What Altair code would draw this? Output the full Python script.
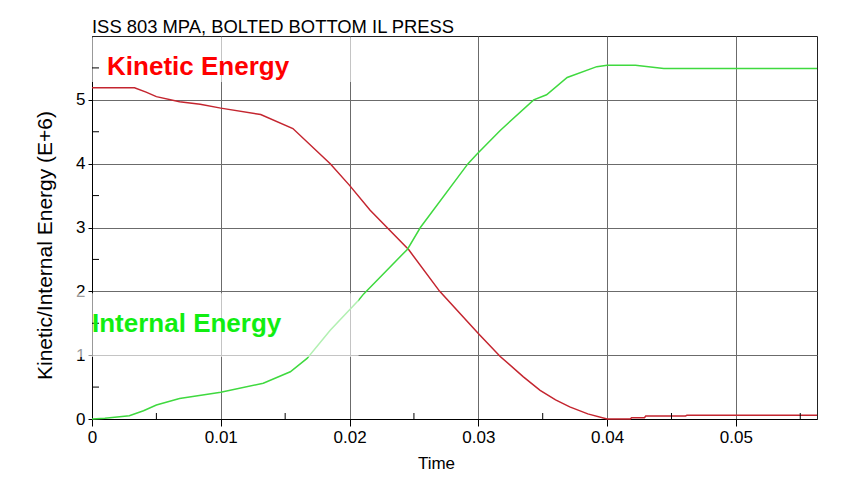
import altair as alt
import pandas as pd

FONT = "Liberation Sans, Arial, Helvetica, sans-serif"

# ---- data ----
ke_t = [0.0, 0.0033, 0.0042, 0.0050, 0.0068, 0.0084, 0.0100, 0.0131, 0.0156, 0.0185,
        0.0200, 0.0216, 0.0246, 0.0270, 0.0300, 0.0317, 0.0335, 0.0348, 0.0360, 0.0371,
        0.0385, 0.0400, 0.0418, 0.0419, 0.0429, 0.0430, 0.0461, 0.0462, 0.0563]
ke_v = [5.19, 5.19, 5.12, 5.05, 4.97, 4.93, 4.87, 4.77, 4.55, 4.00,
        3.66, 3.27, 2.65, 2.00, 1.34, 0.98, 0.66, 0.45, 0.30, 0.19,
        0.08, 0.00, 0.00, 0.02, 0.02, 0.047, 0.047, 0.06, 0.06]

ie_t = [0.0, 0.0010, 0.0029, 0.0040, 0.0050, 0.0068, 0.0100, 0.0133, 0.0154, 0.0167,
        0.0185, 0.0207, 0.0211, 0.0245, 0.0255, 0.0292, 0.0299, 0.0317, 0.0343, 0.0353,
        0.0369, 0.0392, 0.0400, 0.0422, 0.0444, 0.0563]
ie_v = [0.00, 0.01, 0.05, 0.13, 0.22, 0.32, 0.42, 0.56, 0.74, 0.95,
        1.39, 1.86, 1.96, 2.66, 3.00, 4.00, 4.15, 4.52, 5.00, 5.08,
        5.35, 5.52, 5.54, 5.54, 5.49, 5.49]

series_names = ["Kinetic Energy", "Internal Energy"]
series_colors = ["#c4252f", "#3fd93f"]
label_colors = ["#ff0000", "#11ee11"]
label_t = [0.00117, 0.0]
label_v = [5.386, 1.364]

x_major = [0.0, 0.01, 0.02, 0.03, 0.04, 0.05]
x_minor = [0.005, 0.015, 0.025, 0.035, 0.045, 0.055]
y_major = [0, 1, 2, 3, 4, 5]
y_minor = [0.5, 1.5, 2.5, 3.5, 4.5, 5.5]

X_DOMAIN = [0.0, 0.0563]
Y_DOMAIN = [0.0, 6.0]

# faded (erased) regions around the annotation labels
mask_t1 = [-0.0003, -0.0017]
mask_t2 = [0.0205, 0.0207]
mask_v1 = [5.28, 0.97]
mask_v2 = [5.98, 1.97]

W, H = 725, 383
PAD = {"left": 84, "top": 28, "right": 19, "bottom": 52}

xs = alt.Scale(domain=X_DOMAIN, nice=False, zero=False)
ys = alt.Scale(domain=Y_DOMAIN, nice=False, zero=False)

x_axis = alt.Axis(
    values=x_major, format="~g", grid=True, gridColor="#6b6b6b", gridWidth=1,
    domainColor="#000000", tickColor="#000000", tickSize=7, tickWidth=1,
    labelFont=FONT, labelFontSize=17, labelColor="#000000", labelPadding=3,
    labelFlush=False,
    title="Time", titleFont=FONT, titleFontSize=17, titleFontWeight="normal",
    titleColor="#000000", titleX=344, titleY=36, titleBaseline="top", titleAlign="center")
y_axis = alt.Axis(
    values=y_major, format="d", grid=True, gridColor="#6b6b6b", gridWidth=1,
    domainColor="#000000", tickColor="#000000", tickSize=4, tickWidth=1,
    labelFont=FONT, labelFontSize=17, labelColor="#000000", labelPadding=3,
    labelFlush=False,
    title="Kinetic/Internal Energy (E+6)", titleFont=FONT, titleFontSize=21,
    titleFontWeight="normal", titleColor="#000000", titleAngle=270,
    titleX=-47, titleY=209, titleBaseline="middle", titleAlign="center")

df = pd.DataFrame({
    "t": ke_t + ie_t,
    "v": ke_v + ie_v,
    "series": [series_names[0]] * len(ke_t) + [series_names[1]] * len(ie_t),
    "order": list(range(len(ke_t))) + list(range(len(ie_t))),
})

lines = alt.Chart(df).mark_line(strokeWidth=1.5).encode(
    x=alt.X("t:Q", scale=xs, axis=x_axis),
    y=alt.Y("v:Q", scale=ys, axis=y_axis),
    color=alt.Color("series:N", scale=alt.Scale(domain=series_names, range=series_colors), legend=None),
    order="order:Q",
)

masks = alt.Chart(pd.DataFrame({"x1": mask_t1, "x2": mask_t2, "y1": mask_v1, "y2": mask_v2})).mark_rect(
    color="white", opacity=0.6).encode(
    x=alt.X("x1:Q", scale=xs, axis=x_axis), x2="x2:Q",
    y=alt.Y("y1:Q", scale=ys, axis=y_axis), y2="y2:Q")

xminor = alt.Chart(pd.DataFrame({"t": x_minor})).mark_rule(color="#000000").encode(
    x=alt.X("t:Q", scale=xs, axis=x_axis), y=alt.value(H), y2=alt.value(H - 6))
yminor = alt.Chart(pd.DataFrame({"v": y_minor})).mark_rule(color="#000000").encode(
    y=alt.Y("v:Q", scale=ys, axis=y_axis), x=alt.value(0), x2=alt.value(7))

labels = alt.Chart(pd.DataFrame({"t": label_t, "v": label_v, "label": series_names})).mark_text(
    align="left", baseline="alphabetic", fontSize=26, fontWeight="bold", font=FONT).encode(
    x=alt.X("t:Q", scale=xs, axis=x_axis),
    y=alt.Y("v:Q", scale=ys, axis=y_axis),
    text="label:N",
    color=alt.Color("label:N", scale=alt.Scale(domain=series_names, range=label_colors), legend=None),
)

chart = alt.layer(lines, masks, xminor, yminor, labels).resolve_scale(
    color="independent"
).properties(
    width=W, height=H,
    autosize=alt.AutoSizeParams(type="none"),
    padding=PAD,
    background="white",
    title=alt.TitleParams(
        text="ISS 803 MPA, BOLTED BOTTOM IL PRESS", anchor="start", frame="group",
        font=FONT, fontSize=18.4, fontWeight="normal", color="#000000", offset=0),
).configure_view(stroke="#222222", strokeWidth=1)

chart.save("out.html", embed_options={"renderer": "svg", "actions": False})
